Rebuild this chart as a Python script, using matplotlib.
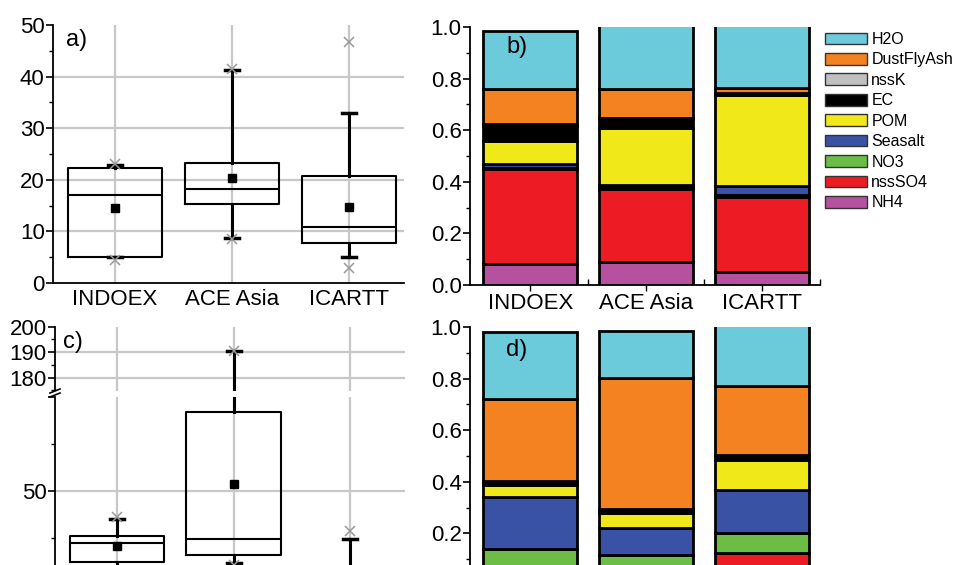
import matplotlib.pyplot as plt
from matplotlib.patches import Patch
from matplotlib.ticker import MultipleLocator

plt.rcParams['font.family'] = ['Liberation Sans', 'DejaVu Sans']
plt.rcParams['font.size'] = 16

campaigns = ["INDOEX", "ACE Asia", "ICARTT"]
pos = [1, 2, 3]

# stacking order, bottom to top
species = ["NH4", "nssSO4", "NO3", "Seasalt", "POM", "EC", "nssK", "DustFlyAsh", "H2O"]
colors = ["#b5519e", "#ed1c24", "#6cbd45", "#3a52a3", "#f0e818",
          "#000000", "#c0c0c0", "#f58220", "#6ccbdb"]

# a) mass concentration statistics
a_whislo = [5.0, 8.8, 5.0]
a_q1 = [5.0, 15.3, 7.8]
a_med = [17.0, 18.2, 10.8]
a_q3 = [22.3, 23.2, 20.8]
a_whishi = [22.8, 41.3, 33.0]
a_mean = [14.5, 20.3, 14.8]
a_min = [4.5, 8.5, 3.0]
a_max = [23.0, 41.5, 46.8]

# c) statistics (broken axis)
c_whislo = [8.0, 11.7, 1.0]
c_q1 = [12.4, 16.0, 2.5]
c_med = [22.2, 24.6, 4.5]
c_q3 = [26.4, 91.7, 8.0]
c_whishi = [35.1, 190.3, 24.6]
c_mean = [20.9, 53.6, 7.0]
c_min = [7.0, 11.0, 0.5]
c_max = [36.3, 190.6, 28.9]

# b) mass fractions per campaign, species order as above
b_indoex = [0.08, 0.37, 0.005, 0.015, 0.09, 0.055, 0.01, 0.135, 0.225]
b_aceasia = [0.09, 0.283, 0.006, 0.008, 0.223, 0.035, 0.003, 0.112, 0.25]
b_icartt = [0.05, 0.29, 0.008, 0.035, 0.353, 0.006, 0.002, 0.020, 0.246]

# d) mass fractions per campaign
d_indoex = [0.02, 0.04, 0.078, 0.204, 0.046, 0.012, 0.003, 0.317, 0.26]
d_aceasia = [0.02, 0.03, 0.066, 0.106, 0.056, 0.012, 0.003, 0.511, 0.179]
d_icartt = [0.03, 0.093, 0.077, 0.17, 0.116, 0.015, 0.003, 0.269, 0.237]

W, H = 957, 565
GRID = "#c8c8c8"


def px_axes(fig, left, top, right, bottom):
    return fig.add_axes([left / W, 1 - bottom / H, (right - left) / W, (bottom - top) / H])


def px_text(x, y, s):
    fig.text(x / W, 1 - y / H, s, fontsize=17, va="center")


def style_axis(ax):
    for s in ["top", "right"]:
        ax.spines[s].set_visible(False)
    for s in ["left", "bottom"]:
        ax.spines[s].set_linewidth(1.3)
    ax.tick_params(axis="y", which="major", direction="out", length=5, width=1.2, pad=1)
    ax.tick_params(axis="y", which="minor", direction="out", length=3, width=1.0)
    ax.tick_params(axis="x", which="major", length=0, pad=4)


def boxes(ax, lo, q1, med, q3, hi, mean, mn, mx):
    stats = []
    for i in range(len(campaigns)):
        stats.append(dict(label=campaigns[i], whislo=lo[i], q1=q1[i], med=med[i],
                          q3=q3[i], whishi=hi[i], mean=mean[i]))
    ax.bxp(stats, positions=pos, widths=0.81, capwidths=0.12, showmeans=True,
           showfliers=False, manage_ticks=False,
           boxprops=dict(color="black", linewidth=1.5),
           medianprops=dict(color="black", linewidth=1.5),
           whiskerprops=dict(color="black", linewidth=2.2),
           capprops=dict(color="black", linewidth=2.5),
           meanprops=dict(marker="s", markerfacecolor="black", markeredgecolor="black",
                          markersize=5.5))
    ax.plot(pos, mn, "x", color="#999999", markersize=7, mew=1.1, zorder=4)
    ax.plot(pos, mx, "x", color="#999999", markersize=7, mew=1.1, zorder=4)


def gridlines(ax, ys):
    for y in ys:
        ax.axhline(y, color=GRID, linewidth=1.6, zorder=0)
    for x in pos:
        ax.axvline(x, color=GRID, linewidth=1.6, zorder=0)


def stacked(ax, groups, ticklabels):
    bottoms = [0.0] * len(groups)
    for i in range(len(species)):
        heights = [g[i] for g in groups]
        ax.bar(pos, heights, bottom=bottoms, width=0.81, color=colors[i],
               edgecolor="black", linewidth=2.0)
        bottoms = [b + h for b, h in zip(bottoms, heights)]
    ax.set_ylim(0, 1.0)
    ax.set_xlim(0.48, 3.5)
    ax.yaxis.set_major_locator(MultipleLocator(0.2))
    ax.yaxis.set_minor_locator(MultipleLocator(0.1))
    ax.yaxis.set_major_formatter(lambda v, p: f"{v:.1f}")
    ax.set_xticks(pos)
    ax.set_xticklabels(ticklabels)
    ax.set_xticks([1.5, 2.5, 3.5], minor=True)
    style_axis(ax)
    ax.tick_params(axis="x", which="major", direction="out", length=4, width=1.0, pad=2)
    ax.tick_params(axis="x", which="minor", direction="in", length=4, width=1.0)


fig = plt.figure(figsize=(W / 100, H / 100), dpi=100)

# a) box plot
ax_a = px_axes(fig, 53, 25, 404, 283)
boxes(ax_a, a_whislo, a_q1, a_med, a_q3, a_whishi, a_mean, a_min, a_max)
gridlines(ax_a, [10, 20, 30, 40])
ax_a.set_ylim(0, 50)
ax_a.set_xlim(0.47, 3.47)
ax_a.yaxis.set_major_locator(MultipleLocator(10))
ax_a.yaxis.set_minor_locator(MultipleLocator(5))
ax_a.set_xticks(pos)
ax_a.set_xticklabels(campaigns)
style_axis(ax_a)
px_text(66, 40, "a)")

# b) composition
ax_b = px_axes(fig, 470, 27, 820, 285)
stacked(ax_b, [b_indoex, b_aceasia, b_icartt], campaigns)
px_text(506, 47, "b)")

# c) broken axis: upper part 175-200, lower part 0-100
ax_c1 = px_axes(fig, 55, 326.7, 405, 390.5)
ax_c2 = px_axes(fig, 55, 396.6, 405, 585.4)
for ax in (ax_c1, ax_c2):
    boxes(ax, c_whislo, c_q1, c_med, c_q3, c_whishi, c_mean, c_min, c_max)
    ax.set_xlim(0.47, 3.47)
    ax.set_xticks(pos)
    ax.set_xticklabels([])
    style_axis(ax)
gridlines(ax_c1, [180, 190])
gridlines(ax_c2, [50])
ax_c1.set_ylim(175, 200)
ax_c1.set_yticks([180, 190, 200])
ax_c1.yaxis.set_minor_locator(MultipleLocator(5))
ax_c1.spines["bottom"].set_visible(False)
ax_c2.set_ylim(0, 100)
ax_c2.set_yticks([50, 100])
ax_c2.set_yticklabels(["50", ""])
ax_c2.yaxis.set_minor_locator(MultipleLocator(25))
# break marks on the left spine
for dy in (-2, 2):
    fig.add_artist(plt.Line2D([50 / W, 60 / W],
                              [1 - (393 + dy + 2) / H, 1 - (393 + dy - 2) / H],
                              color="black", linewidth=1.2))
px_text(63, 342, "c)")

# d) composition
ax_d = px_axes(fig, 470, 327, 820, 585)
stacked(ax_d, [d_indoex, d_aceasia, d_icartt], [])
ax_d.set_yticks([0.2, 0.4, 0.6, 0.8, 1.0])
px_text(506, 350, "d)")

# legend, top to bottom
handles = [Patch(facecolor=colors[i], edgecolor="#333333", linewidth=1.0)
           for i in reversed(range(len(species)))]
labels = list(reversed(species))
fig.legend(handles, labels, loc="upper left", bbox_to_anchor=(825 / W, 1 - 32 / H),
           frameon=False, fontsize=11.5, borderpad=0, borderaxespad=0,
           handlelength=2.6, handleheight=0.75, handletextpad=0.3, labelspacing=0.34)

fig.savefig("out.png", dpi=100)
